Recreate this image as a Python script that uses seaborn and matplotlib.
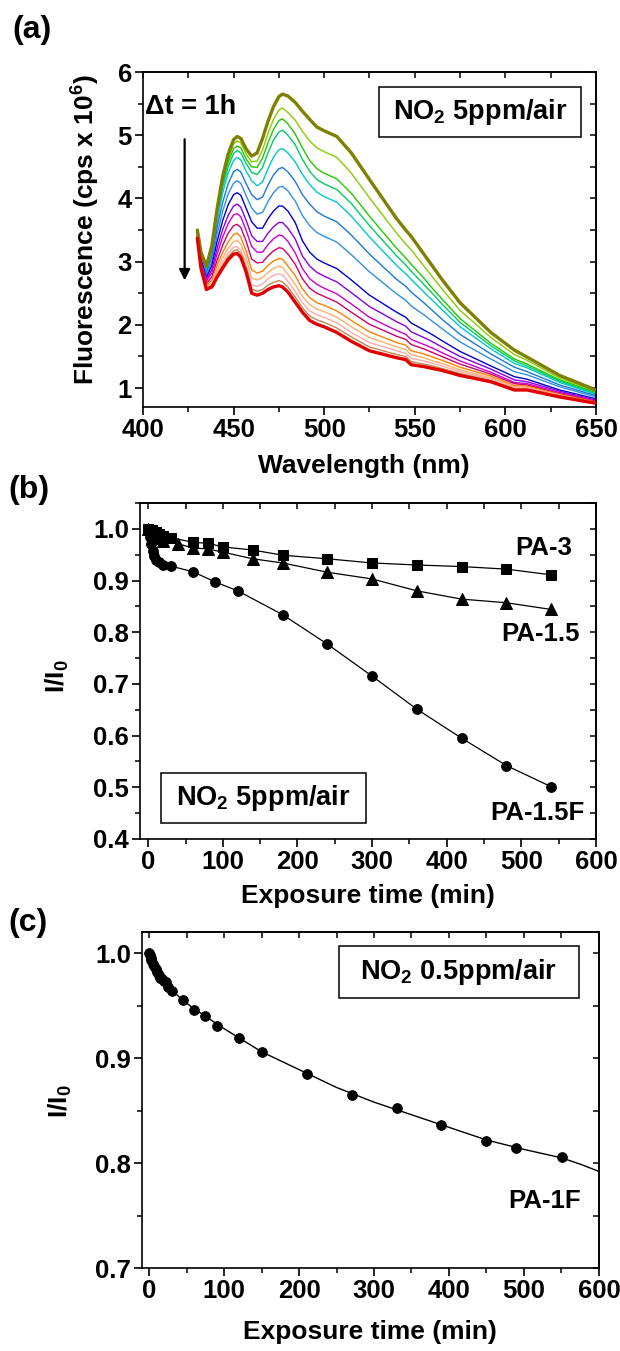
import numpy as np
import pandas as pd
import matplotlib
matplotlib.use("Agg")
import matplotlib.pyplot as plt
import seaborn as sns
from matplotlib.patches import Rectangle
from matplotlib.ticker import MultipleLocator, FormatStrFormatter, NullFormatter

# ---------------- Panel (a): fluorescence spectra, one every hour ----------------
wavelength = [430, 432, 435, 438, 441, 444, 447, 450, 452, 454, 457, 460, 463, 466,
              469, 472, 475, 477, 480, 484, 488, 492, 496, 500, 507, 515, 525, 540,
              545, 548, 555, 560, 565, 575, 592, 605, 612, 630, 650]

spec_0h  = [3.50, 3.15, 2.93, 3.25, 3.85, 4.35, 4.70, 4.93, 4.98, 4.95, 4.78, 4.67, 4.72, 4.95, 5.22, 5.45, 5.61, 5.65, 5.62, 5.52, 5.38, 5.25, 5.13, 5.07, 4.98, 4.72, 4.30, 3.68, 3.50, 3.40, 3.12, 2.92, 2.72, 2.35, 1.88, 1.60, 1.49, 1.20, 0.97]
spec_1h  = [3.49, 3.14, 2.92, 3.22, 3.81, 4.29, 4.63, 4.86, 4.91, 4.88, 4.70, 4.58, 4.59, 4.77, 5.03, 5.25, 5.40, 5.43, 5.36, 5.24, 5.06, 4.91, 4.80, 4.74, 4.65, 4.40, 4.01, 3.45, 3.28, 3.19, 2.93, 2.75, 2.57, 2.23, 1.80, 1.53, 1.44, 1.16, 0.95]
spec_2h  = [3.49, 3.13, 2.90, 3.20, 3.76, 4.23, 4.57, 4.79, 4.83, 4.80, 4.62, 4.50, 4.49, 4.64, 4.88, 5.09, 5.23, 5.26, 5.18, 5.02, 4.80, 4.60, 4.47, 4.40, 4.31, 4.08, 3.72, 3.21, 3.06, 2.96, 2.74, 2.57, 2.41, 2.10, 1.71, 1.46, 1.38, 1.13, 0.93]
spec_3h  = [3.48, 3.12, 2.89, 3.17, 3.72, 4.18, 4.50, 4.71, 4.76, 4.72, 4.55, 4.41, 4.38, 4.49, 4.72, 4.92, 5.05, 5.08, 5.00, 4.85, 4.62, 4.43, 4.30, 4.23, 4.14, 3.92, 3.57, 3.09, 2.95, 2.85, 2.64, 2.49, 2.33, 2.04, 1.67, 1.43, 1.35, 1.11, 0.91]
spec_4h  = [3.48, 3.11, 2.86, 3.13, 3.65, 4.09, 4.40, 4.60, 4.65, 4.61, 4.43, 4.28, 4.20, 4.26, 4.47, 4.65, 4.77, 4.79, 4.72, 4.58, 4.38, 4.22, 4.10, 4.03, 3.94, 3.72, 3.39, 2.94, 2.81, 2.72, 2.52, 2.38, 2.24, 1.97, 1.62, 1.39, 1.32, 1.09, 0.90]
spec_5h  = [3.46, 3.08, 2.83, 3.07, 3.55, 3.94, 4.23, 4.42, 4.46, 4.42, 4.23, 4.06, 3.98, 4.02, 4.21, 4.37, 4.47, 4.49, 4.42, 4.27, 4.06, 3.91, 3.79, 3.72, 3.63, 3.42, 3.12, 2.72, 2.61, 2.52, 2.35, 2.22, 2.09, 1.85, 1.54, 1.33, 1.26, 1.05, 0.88]
spec_6h  = [3.45, 3.06, 2.79, 3.00, 3.44, 3.80, 4.07, 4.24, 4.28, 4.24, 4.04, 3.85, 3.75, 3.78, 3.95, 4.09, 4.18, 4.19, 4.12, 3.96, 3.73, 3.57, 3.46, 3.40, 3.31, 3.11, 2.84, 2.49, 2.39, 2.30, 2.16, 2.05, 1.94, 1.73, 1.46, 1.26, 1.21, 1.02, 0.86]
spec_7h  = [3.44, 3.03, 2.75, 2.94, 3.33, 3.65, 3.90, 4.06, 4.09, 4.05, 3.84, 3.63, 3.53, 3.53, 3.68, 3.80, 3.88, 3.88, 3.80, 3.62, 3.33, 3.15, 3.04, 2.98, 2.89, 2.71, 2.47, 2.20, 2.12, 2.03, 1.92, 1.84, 1.75, 1.58, 1.35, 1.18, 1.14, 0.97, 0.83]
spec_8h  = [3.43, 3.01, 2.72, 2.87, 3.22, 3.51, 3.73, 3.88, 3.91, 3.86, 3.65, 3.41, 3.32, 3.32, 3.45, 3.55, 3.62, 3.62, 3.53, 3.36, 3.09, 2.93, 2.83, 2.77, 2.68, 2.51, 2.29, 2.05, 1.98, 1.89, 1.80, 1.73, 1.65, 1.50, 1.30, 1.13, 1.10, 0.95, 0.81]
spec_9h  = [3.41, 2.99, 2.69, 2.82, 3.13, 3.39, 3.60, 3.74, 3.76, 3.71, 3.49, 3.24, 3.15, 3.15, 3.27, 3.36, 3.42, 3.41, 3.32, 3.14, 2.89, 2.73, 2.64, 2.58, 2.49, 2.33, 2.12, 1.91, 1.85, 1.77, 1.69, 1.63, 1.56, 1.43, 1.25, 1.09, 1.07, 0.93, 0.80]
spec_10h = [3.40, 2.96, 2.65, 2.76, 3.03, 3.26, 3.45, 3.57, 3.59, 3.54, 3.32, 3.04, 2.98, 2.99, 3.09, 3.17, 3.22, 3.21, 3.12, 2.96, 2.73, 2.58, 2.50, 2.45, 2.36, 2.20, 2.01, 1.82, 1.77, 1.69, 1.62, 1.56, 1.50, 1.38, 1.22, 1.07, 1.05, 0.91, 0.79]
spec_11h = [3.39, 2.94, 2.62, 2.71, 2.95, 3.15, 3.31, 3.43, 3.45, 3.39, 3.16, 2.87, 2.82, 2.85, 2.94, 3.01, 3.05, 3.04, 2.93, 2.78, 2.57, 2.43, 2.35, 2.31, 2.22, 2.07, 1.89, 1.72, 1.68, 1.59, 1.54, 1.49, 1.44, 1.33, 1.19, 1.04, 1.03, 0.90, 0.78]
spec_12h = [3.38, 2.93, 2.60, 2.67, 2.88, 3.06, 3.21, 3.32, 3.33, 3.28, 3.05, 2.74, 2.71, 2.75, 2.83, 2.89, 2.93, 2.91, 2.80, 2.64, 2.45, 2.32, 2.25, 2.21, 2.12, 1.97, 1.80, 1.65, 1.61, 1.53, 1.48, 1.43, 1.39, 1.29, 1.16, 1.02, 1.01, 0.89, 0.77]
spec_13h = [3.38, 2.92, 2.58, 2.64, 2.83, 2.99, 3.13, 3.23, 3.24, 3.18, 2.95, 2.63, 2.61, 2.65, 2.73, 2.78, 2.81, 2.79, 2.69, 2.53, 2.35, 2.22, 2.16, 2.12, 2.03, 1.88, 1.72, 1.59, 1.55, 1.47, 1.43, 1.39, 1.35, 1.26, 1.14, 1.00, 1.00, 0.88, 0.77]
spec_14h = [3.37, 2.91, 2.57, 2.62, 2.79, 2.94, 3.08, 3.17, 3.19, 3.13, 2.89, 2.57, 2.53, 2.56, 2.63, 2.67, 2.70, 2.68, 2.60, 2.44, 2.27, 2.14, 2.08, 2.04, 1.95, 1.81, 1.65, 1.53, 1.50, 1.42, 1.38, 1.35, 1.31, 1.23, 1.12, 0.98, 0.98, 0.87, 0.77]
spec_15h = [3.37, 2.90, 2.56, 2.60, 2.76, 2.90, 3.03, 3.12, 3.13, 3.07, 2.83, 2.50, 2.47, 2.50, 2.56, 2.60, 2.62, 2.60, 2.52, 2.36, 2.20, 2.07, 2.01, 1.97, 1.88, 1.74, 1.59, 1.48, 1.45, 1.37, 1.34, 1.31, 1.28, 1.20, 1.10, 0.97, 0.97, 0.86, 0.76]

spectra = [spec_0h, spec_1h, spec_2h, spec_3h, spec_4h, spec_5h, spec_6h, spec_7h,
           spec_8h, spec_9h, spec_10h, spec_11h, spec_12h, spec_13h, spec_14h, spec_15h]
spec_colors = ["#808000", "#88cc00", "#22c800", "#00cc66", "#00c8c8", "#1a78d8",
               "#3090e0", "#0000cc", "#8a00e0", "#cc00cc", "#d0006a", "#ff8000",
               "#ffb070", "#ffaaaa", "#c08850", "#e00000"]

# ---------------- Panel (b): I/I0 vs exposure time, NO2 5 ppm ----------------
pa3_t = [0, 5, 10, 15, 20, 30, 60, 80, 100, 140, 180, 240, 300, 360, 420, 480, 540]
pa3_v = [1.0, 0.997, 0.993, 0.99, 0.987, 0.983, 0.974, 0.972, 0.965, 0.959, 0.949,
         0.942, 0.934, 0.930, 0.927, 0.922, 0.911]

pa15_t = [0, 5, 10, 20, 40, 60, 80, 100, 140, 180, 240, 300, 360, 420, 480, 540]
pa15_v = [1.0, 0.99, 0.983, 0.976, 0.971, 0.963, 0.961, 0.955, 0.942, 0.934, 0.916,
          0.903, 0.880, 0.864, 0.857, 0.844]

pa15f_t = [0, 2, 4, 6, 8, 10, 15, 20, 30, 60, 90, 120, 180, 240, 300, 360, 420, 480, 540]
pa15f_v = [1.0, 0.985, 0.97, 0.958, 0.948, 0.94, 0.935, 0.93, 0.928, 0.917, 0.897,
           0.880, 0.834, 0.777, 0.715, 0.651, 0.595, 0.542, 0.501]

# ---------------- Panel (c): I/I0 vs exposure time, NO2 0.5 ppm ----------------
pa1f_t = [0, 1, 2, 3, 5, 7, 9, 11, 13, 15, 17, 20, 22, 25, 30, 45, 60, 75, 90, 120,
          150, 211, 271, 331, 390, 450, 490, 551]
pa1f_v = [1.0, 0.998, 0.995, 0.993, 0.990, 0.988, 0.985, 0.982, 0.979, 0.976, 0.975,
          0.973, 0.972, 0.968, 0.964, 0.955, 0.946, 0.940, 0.931, 0.919, 0.906, 0.885,
          0.865, 0.852, 0.836, 0.821, 0.814, 0.806]
fit_t = [0, 5, 10, 20, 30, 45, 60, 100, 150, 200, 250, 300, 350, 400, 450, 500, 550, 575, 600]
fit_v = [1.0, 0.992, 0.985, 0.974, 0.965, 0.955, 0.947, 0.928, 0.906, 0.889, 0.872,
         0.858, 0.846, 0.834, 0.822, 0.813, 0.805, 0.799, 0.792]

for s in spectra:
    assert len(s) == len(wavelength)

# ---------------- Styling ----------------
sns.set_style("ticks")
plt.rcParams["font.family"] = ["Liberation Sans", "DejaVu Sans"]
plt.rcParams["font.weight"] = "bold"
plt.rcParams["axes.labelweight"] = "bold"
plt.rcParams["text.color"] = "black"
plt.rcParams["axes.labelcolor"] = "black"
plt.rcParams["xtick.color"] = "black"
plt.rcParams["ytick.color"] = "black"
plt.rcParams["mathtext.fontset"] = "custom"
plt.rcParams["mathtext.rm"] = "Liberation Sans:bold"
plt.rcParams["mathtext.bf"] = "Liberation Sans:bold"
plt.rcParams["mathtext.it"] = "Liberation Sans:bold:italic"
plt.rcParams["mathtext.default"] = "bf"
plt.rcParams["axes.linewidth"] = 1.2
plt.rcParams["axes.edgecolor"] = "black"

TICK_FS = 18.5
LABEL_FS = 19
BOX_FS = 19.5

fig = plt.figure(figsize=(6.2, 13.51), dpi=100)
ax_a = fig.add_axes([0.2306, 0.6987, 0.7306, 0.2480])
ax_b = fig.add_axes([0.2258, 0.3790, 0.7355, 0.2487])
ax_c = fig.add_axes([0.2290, 0.0614, 0.7370, 0.2487])


def style_axes(ax, xmaj, xmin, ymaj, ymin, yfmt):
    ax.xaxis.set_major_locator(MultipleLocator(xmaj))
    ax.xaxis.set_minor_locator(MultipleLocator(xmin))
    ax.yaxis.set_major_locator(MultipleLocator(ymaj))
    ax.yaxis.set_minor_locator(MultipleLocator(ymin))
    ax.yaxis.set_major_formatter(FormatStrFormatter(yfmt))
    ax.xaxis.set_major_formatter(FormatStrFormatter("%d"))
    ax.tick_params(which="major", direction="out", length=6, width=1.2,
                   labelsize=TICK_FS, pad=2, colors="black")
    ax.tick_params(which="minor", direction="out", length=3.5, width=1.1, colors="black")
    for lab in ax.get_xticklabels() + ax.get_yticklabels():
        lab.set_fontweight("bold")
    secx = ax.secondary_xaxis("top")
    secx.xaxis.set_major_locator(MultipleLocator(xmaj))
    secx.xaxis.set_minor_locator(MultipleLocator(xmin))
    secx.xaxis.set_major_formatter(NullFormatter())
    secx.tick_params(which="both", direction="in", length=4, width=1.1, colors="black")
    secy = ax.secondary_yaxis("right")
    secy.yaxis.set_major_locator(MultipleLocator(ymaj))
    secy.yaxis.set_minor_locator(MultipleLocator(ymin))
    secy.yaxis.set_major_formatter(NullFormatter())
    secy.tick_params(which="both", direction="in", length=4, width=1.1, colors="black")
    for s in ax.spines.values():
        s.set_visible(True)
        s.set_linewidth(1.2)
        s.set_color("black")


def add_box(ax, x0, y0, x1, y1, text):
    ax.add_patch(Rectangle((x0, y0), x1 - x0, y1 - y0, transform=ax.transAxes,
                           facecolor="white", edgecolor="black", lw=1.1, zorder=5))
    ax.text((x0 + x1) / 2, (y0 + y1) / 2, text, transform=ax.transAxes,
            ha="center", va="center", fontsize=BOX_FS, fontweight="bold", zorder=6)


# ---- Panel (a)
for i, (vals, col) in enumerate(zip(spectra, spec_colors)):
    thick = i in (0, len(spectra) - 1)
    sns.lineplot(x=wavelength, y=vals, ax=ax_a, color=col,
                 lw=2.4 if thick else 1.0, zorder=3 if thick else 2, legend=False)
ax_a.set_xlim(400, 650)
ax_a.set_ylim(0.7, 6.0)
style_axes(ax_a, 50, 25, 1, 0.5, "%d")
ax_a.set_xlabel("Wavelength (nm)", fontsize=LABEL_FS, fontweight="bold")
ax_a.set_ylabel("Fluorescence (cps x 10$^{6}$)", fontsize=LABEL_FS, fontweight="bold")
ax_a.annotate("", xy=(423, 2.66), xytext=(423, 4.98),
              arrowprops=dict(arrowstyle="-|>", lw=1.6, color="black", mutation_scale=16))
ax_a.text(401, 5.45, "\u0394t = 1h", fontsize=19.5, fontweight="bold", ha="left", va="center")
add_box(ax_a, 0.522, 0.807, 0.967, 0.956, "NO$_2$ 5ppm/air")

# ---- Panel (b)
sns.lineplot(x=pa3_t, y=pa3_v, ax=ax_b, color="black", lw=0.9, marker="s",
             markersize=6.5, markeredgecolor="black", markerfacecolor="black")
sns.lineplot(x=pa15_t, y=pa15_v, ax=ax_b, color="black", lw=0.9, marker="^",
             markersize=8, markeredgecolor="black", markerfacecolor="black")
sns.lineplot(x=pa15f_t, y=pa15f_v, ax=ax_b, color="black", lw=0.9, marker="o",
             markersize=7, markeredgecolor="black", markerfacecolor="black")
ax_b.set_xlim(-11, 600)
ax_b.set_ylim(0.4, 1.05)
style_axes(ax_b, 100, 50, 0.1, 0.05, "%.1f")
ax_b.set_xlabel("Exposure time (min)", fontsize=LABEL_FS, fontweight="bold")
ax_b.set_ylabel("I/I$_0$", fontsize=LABEL_FS, fontweight="bold")
ax_b.text(530, 0.963, "PA-3", fontsize=18.5, fontweight="bold", ha="center", va="center")
ax_b.text(525, 0.797, "PA-1.5", fontsize=18.5, fontweight="bold", ha="center", va="center")
ax_b.text(521, 0.450, "PA-1.5F", fontsize=18.5, fontweight="bold", ha="center", va="center")
add_box(ax_b, 0.046, 0.048, 0.496, 0.196, "NO$_2$ 5ppm/air")

# ---- Panel (c)
sns.lineplot(x=fit_t, y=fit_v, ax=ax_c, color="black", lw=1.0)
sns.scatterplot(x=pa1f_t, y=pa1f_v, ax=ax_c, color="black", s=50,
                edgecolor="black", zorder=4)
ax_c.set_xlim(-9.5, 600)
ax_c.set_ylim(0.7, 1.02)
style_axes(ax_c, 100, 50, 0.1, 0.05, "%.1f")
ax_c.set_xlabel("Exposure time (min)", fontsize=LABEL_FS, fontweight="bold")
ax_c.set_ylabel("I/I$_0$", fontsize=LABEL_FS, fontweight="bold")
ax_c.text(528, 0.764, "PA-1F", fontsize=18.5, fontweight="bold", ha="center", va="center")
add_box(ax_c, 0.431, 0.804, 0.956, 0.959, "NO$_2$ 0.5ppm/air")

# label positions
for ax, xl, yl in [(ax_a, (0.488, -0.176), (-0.126, 0.53)),
                   (ax_b, (0.50, -0.17), (-0.182, 0.485)),
                   (ax_c, (0.498, -0.19), (-0.179, 0.497))]:
    ax.xaxis.set_label_coords(*xl)
    ax.xaxis.label.set_va("center")
    ax.yaxis.set_label_coords(*yl)
    ax.yaxis.label.set_va("center")

# panel letters
fig.text(12 / 620, 1 - 30 / 1351, "(a)", fontsize=23, fontweight="bold", ha="left", va="center")
fig.text(8 / 620, 1 - 490 / 1351, "(b)", fontsize=23, fontweight="bold", ha="left", va="center")
fig.text(8 / 620, 1 - 923 / 1351, "(c)", fontsize=23, fontweight="bold", ha="left", va="center")

fig.savefig("out.png", dpi=100, facecolor="white")
